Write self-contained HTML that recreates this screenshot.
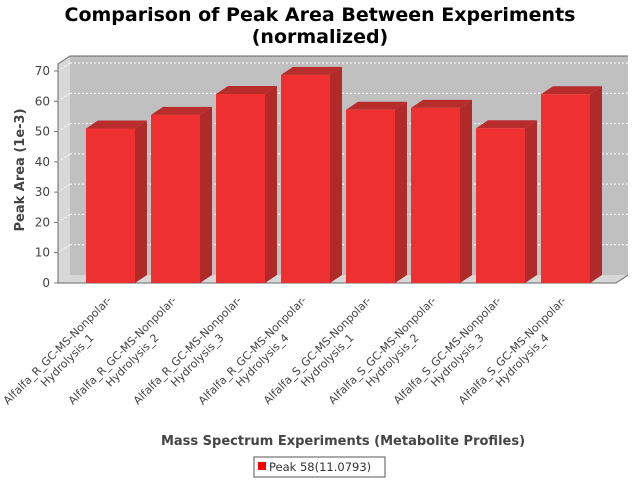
<!DOCTYPE html>
<html><head><meta charset="utf-8"><style>
body{margin:0;background:#fff;}
svg{display:block;font-family:"DejaVu Sans","Liberation Sans",sans-serif;}
</style></head><body>
<svg id="chart" width="640" height="480" viewBox="0 0 640 480" xmlns="http://www.w3.org/2000/svg">
<text x="320" y="21" text-anchor="middle" font-size="19" font-weight="bold" fill="#000">Comparison of Peak Area Between Experiments</text>
<text x="320" y="43" text-anchor="middle" font-size="19" font-weight="bold" fill="#000">(normalized)</text>
<g id="plot"></g>
<text x="343" y="445" text-anchor="middle" font-size="13" font-weight="bold" fill="#444">Mass Spectrum Experiments (Metabolite Profiles)</text>
<text transform="translate(24,170) rotate(-90)" text-anchor="middle" font-size="13" font-weight="bold" fill="#444">Peak Area (1e-3)</text>
<g>
<rect x="254" y="457" width="131" height="20" fill="#fff" stroke="#555" stroke-width="1"/>
<rect x="258" y="462" width="8" height="8" fill="#ff0000"/>
<text x="269" y="471" font-size="11.5" fill="#333">Peak 58(11.0793)</text>
</g>
</svg>
<script>
const categories = ["Alfalfa_R_GC-MS-Nonpolar-|Hydrolysis_1","Alfalfa_R_GC-MS-Nonpolar-|Hydrolysis_2","Alfalfa_R_GC-MS-Nonpolar-|Hydrolysis_3","Alfalfa_R_GC-MS-Nonpolar-|Hydrolysis_4","Alfalfa_S_GC-MS-Nonpolar-|Hydrolysis_1","Alfalfa_S_GC-MS-Nonpolar-|Hydrolysis_2","Alfalfa_S_GC-MS-Nonpolar-|Hydrolysis_3","Alfalfa_S_GC-MS-Nonpolar-|Hydrolysis_4"];
const values = [51.0, 55.5, 62.4, 68.7, 57.2, 57.8, 51.1, 62.3];
const yTicks = [0,10,20,30,40,50,60,70];
const yMax = 72.3;

const NS="http://www.w3.org/2000/svg";
const plot=document.getElementById('plot');
const X0=58, X1=616, Y0=283, YT=64, DX=12, DY=-8;
function y(v){return Y0-(v/yMax)*(Y0-YT);}
const step=(X1-X0)/categories.length;
function xStart(i){return X0+28+i*65*(step/69.75);}
const barW=49;
function mk(tag,attrs,name,parent){const e=document.createElementNS(NS,tag);for(const k in attrs)e.setAttribute(k,attrs[k]);(parent||plot).appendChild(e);return e;}
// walls
mk('polygon',{points:`${X0+DX},${YT+DY} ${X1+DX},${YT+DY} ${X1+DX},${Y0+DY} ${X0+DX},${Y0+DY}`,fill:'#c0c0c0'},'back-wall');
mk('polygon',{points:`${X0},${YT} ${X0+DX},${YT+DY} ${X0+DX},${Y0+DY} ${X0},${Y0}`,fill:'#d8d8d8'},'left-wall');
mk('polygon',{points:`${X0},${Y0} ${X0+DX},${Y0+DY} ${X1+DX},${Y0+DY} ${X1},${Y0}`,fill:'#d8d8d8'},'floor');
yTicks.forEach(t=>{
  const yy=y(t);
  if(t>0){
    mk('line',{x1:X0,y1:yy,x2:X0+DX,y2:yy+DY,stroke:'#fff','stroke-dasharray':'2,2','stroke-width':1},'gridline-side');
    mk('line',{x1:X0+DX,y1:yy+DY,x2:X1+DX,y2:yy+DY,stroke:'#fff','stroke-dasharray':'2,2','stroke-width':1},'gridline');
  }
  mk('line',{x1:X0-4,y1:yy,x2:X0,y2:yy,stroke:'#777'},'y-tick');
  const tx=mk('text',{x:X0-8,y:yy+4,'text-anchor':'end','font-size':12,fill:'#444'},'y-tick-label');
  tx.textContent=t;
});
mk('polyline',{points:`${X0},${Y0} ${X0},${YT} ${X0+DX},${YT+DY} ${X1+DX},${YT+DY}`,fill:'none',stroke:'#666'},'plot-outline');
mk('polyline',{points:`${X0},${Y0} ${X1},${Y0} ${X1+DX},${Y0+DY}`,fill:'none',stroke:'#666'},'x-axis-line');
values.forEach((v,i)=>{
  const x=xStart(i), yt=y(v);
  mk('polygon',{points:`${x+barW},${yt} ${x+barW+DX},${yt+DY} ${x+barW+DX},${Y0+DY} ${x+barW},${Y0}`,fill:'#b02a2a'},'bar-side');
  mk('polygon',{points:`${x},${yt} ${x+DX},${yt+DY} ${x+barW+DX},${yt+DY} ${x+barW},${yt}`,fill:'#b82c2c'},'bar-top');
  mk('rect',{x:x,y:yt,width:barW,height:Y0-yt,fill:'#ef3030'},'bar-'+(i+1));
  const parts=categories[i].split('|');
  const cx=60+i*65*(step/69.75), cy=353;
  const t=mk('text',{transform:`translate(${cx},${cy}) rotate(-45)`,'text-anchor':'middle','font-size':11,fill:'#444'},'x-tick-label');
  parts.forEach((p,j)=>{const s=mk('tspan',{x:0,dy:j?14:0},'x-tick-label-line',t);s.textContent=p;});
});
</script>
</body></html>
